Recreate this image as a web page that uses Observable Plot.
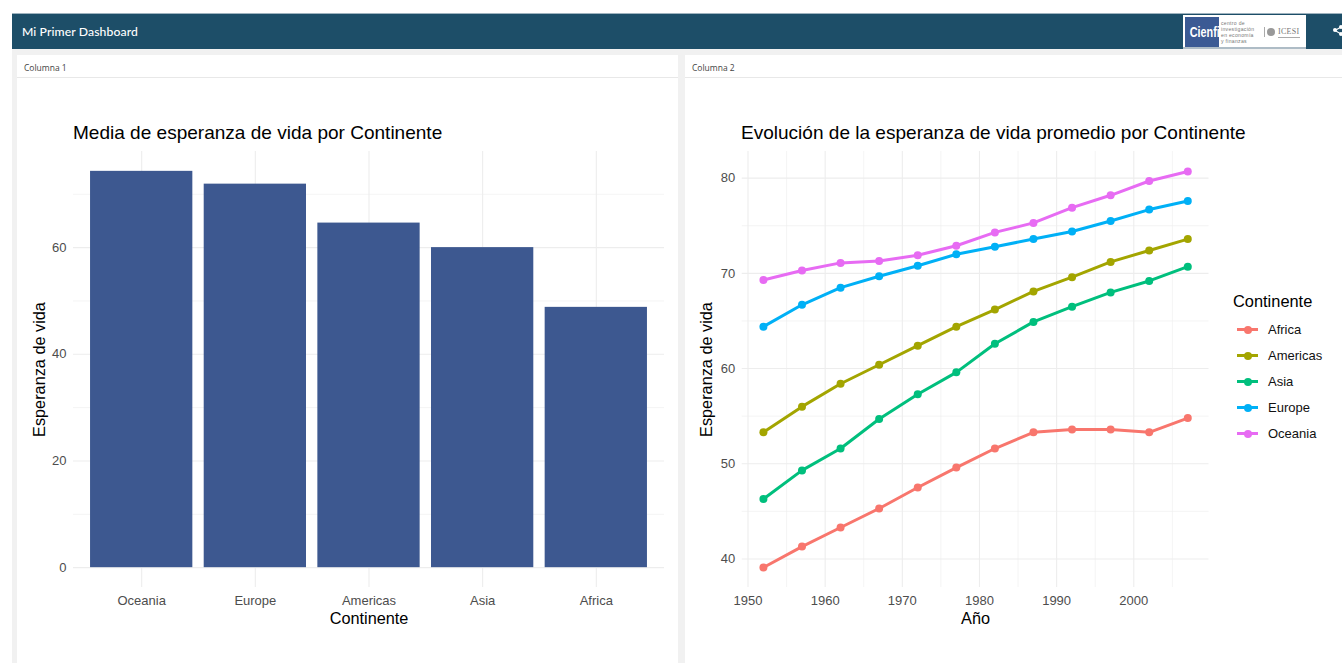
<!DOCTYPE html>
<html><head><meta charset="utf-8">
<script src="https://cdn.jsdelivr.net/npm/d3@7"></script>
<script src="https://cdn.jsdelivr.net/npm/@observablehq/plot@0.6"></script>
<style>
html,body{margin:0;padding:0;width:1342px;height:663px;overflow:hidden;background:#fff;font-family:"Liberation Sans",Arial,sans-serif}
.abs{position:absolute}
#bg{left:12px;top:49px;width:1330px;height:614px;background:#f1f1f1}
#nav{left:12px;top:13px;width:1330px;height:36px;background:#1d4e68;border-top:1px solid #9fb3bf;box-sizing:border-box}
#brand{left:22px;top:24px;color:#fff;font:500 12.2px/15px Lato,sans-serif;letter-spacing:.1px}
.card{background:#fff;top:55px;height:608px}
.head{top:55px;height:22px;border-bottom:1.5px solid #e8e8e8;font:8.5px/25px "Open Sans",sans-serif;color:#444;box-sizing:content-box}
.title{font-size:19.05px;line-height:22px;color:#000;white-space:nowrap}
#logo{left:1183px;top:15px;width:123px;height:34px;background:#fff;border-bottom:2px solid #aebcc6;box-sizing:border-box}
#cienbox{left:1185px;top:17px;width:34px;height:30px;background:#3b5a94}
#cien{left:1185px;top:17px;width:34px;color:#fff;font:bold 15px/30px "Liberation Sans",sans-serif;text-align:center;transform:scaleX(.72);white-space:nowrap}
#ctext{left:1221px;top:20px;font:5.1px/6px "Liberation Sans",sans-serif;letter-spacing:.3px;color:#777;white-space:nowrap}
#divi{left:1264px;top:27px;width:1px;height:10px;background:#aaa}
#seal{left:1267px;top:28px;width:8px;height:8px;border-radius:50%;background:#999}
#icesi{left:1278px;top:27px;font:8px/10px "Liberation Serif",serif;color:#777;letter-spacing:.3px;border-bottom:1px solid #aaa}
.dot{width:4px;height:4px;border-radius:50%;background:#fff}
.conn{width:7px;height:1px;background:#fff;transform-origin:0 50%}
#legt{left:1233px;top:291px;font-size:16.4px;line-height:20px;color:#000}
.lab{left:1268px;font-size:13px;line-height:14px;color:#111}
.sw{left:1237px;width:21px;height:3px}
.sd{left:1243.5px;width:8px;height:8px;border-radius:50%}
svg{position:absolute;overflow:visible}
</style></head>
<body>
<div class="abs" id="bg"></div>
<div class="abs" id="nav"></div>
<div class="abs" id="brand">Mi Primer Dashboard</div>
<div class="abs" id="logo"></div>
<div class="abs" id="cienbox"></div>
<div class="abs" id="cien">Cienfi</div>
<div class="abs" id="ctext">centro de<br>investigación<br>en economía<br>y finanzas</div>
<div class="abs" id="divi"></div>
<div class="abs" id="seal"></div>
<div class="abs" id="icesi">ICESI</div>
<div class="abs conn" style="left:1335px;top:30px;transform:rotate(-30deg)"></div>
<div class="abs conn" style="left:1335px;top:30px;transform:rotate(30deg)"></div>
<div class="abs dot" style="left:1339px;top:25px"></div>
<div class="abs dot" style="left:1333px;top:28px"></div>
<div class="abs dot" style="left:1339px;top:32px"></div>
<div class="abs card" style="left:17px;width:661px"></div>
<div class="abs card" style="left:685px;width:657px"></div>
<div class="abs head" style="left:17px;width:654px;padding-left:7px">Columna 1</div>
<div class="abs head" style="left:685px;width:650px;padding-left:7px">Columna 2</div>
<div id="c1"></div><div id="c2"></div>
<div class="abs title" style="left:73px;top:122px">Media de esperanza de vida por Continente</div>
<div class="abs title" style="left:741px;top:122px">Evolución de la esperanza de vida promedio por Continente</div>
<div class="abs" id="legt">Continente</div>
<div id="leg"></div>
<script>
const barContinents = ["Oceania","Europe","Americas","Asia","Africa"];
const barMeans = [74.3,71.9,64.6,60.0,48.8];
const years = [1952,1957,1962,1967,1972,1977,1982,1987,1992,1997,2002,2007];
const continents = ["Africa","Americas","Asia","Europe","Oceania"];
const colors = ["#F8766D","#A3A500","#00BF7D","#00B0F6","#E76BF3"];
const africa   = [39.1,41.3,43.3,45.3,47.5,49.6,51.6,53.3,53.6,53.6,53.3,54.8];
const americas = [53.3,56.0,58.4,60.4,62.4,64.4,66.2,68.1,69.6,71.2,72.4,73.6];
const asia     = [46.3,49.3,51.6,54.7,57.3,59.6,62.6,64.9,66.5,68.0,69.2,70.7];
const europe   = [64.4,66.7,68.5,69.7,70.8,72.0,72.8,73.6,74.4,75.5,76.7,77.6];
const oceania  = [69.3,70.3,71.1,71.3,71.9,72.9,74.3,75.3,76.9,78.2,79.7,80.7];
const seriesValues = [africa,americas,asia,europe,oceania];
const barMajor = [0,20,40,60], barMinor = [10,30,50,70];
const lineYMajor = [40,50,60,70,80], lineYMinor = [45,55,65,75];
const lineXMajor = [1950,1960,1970,1980,1990,2000], lineXMinor = [1955,1965,1975,1985,1995,2005];
const grid = "#ededed", tickCol = "#4d4d4d";
const font = {fontFamily:'"Liberation Sans",Arial,sans-serif',fontSize:"13px",background:"transparent"};

const bars = barContinents.map((c,i)=>({c,v:barMeans[i]}));
const p1 = Plot.plot({
  width:661,height:563,marginTop:51,marginBottom:76,marginLeft:56,marginRight:14,style:font,
  x:{domain:barContinents,paddingInner:0.1,paddingOuter:0.15,round:false,label:null},
  y:{domain:[-3.72,78.02],label:null},
  marks:[
    Plot.ruleY(barMinor,{stroke:grid,strokeWidth:0.6}),
    Plot.ruleY(barMajor,{stroke:grid,strokeWidth:1.1}),
    Plot.ruleX(barContinents,{x:d=>d,stroke:grid,strokeWidth:1.1}),
    Plot.barY(bars,{x:"c",y:"v",fill:"#3d5890"}),
    Plot.axisX({tickSize:0,tickPadding:8,color:tickCol,label:null}),
    Plot.axisY({ticks:barMajor,tickSize:0,tickPadding:7,color:tickCol,label:null}),
    Plot.text(["Continente"],{frameAnchor:"bottom",dy:36,fontSize:16.3,fill:"#000"}),
    Plot.text(["Esperanza de vida"],{frameAnchor:"left",textAnchor:"middle",rotate:-90,dx:-34,fontSize:16.3,fill:"#000"})
  ]
});
p1.style.left="17px";p1.style.top="100px";
document.getElementById("c1").appendChild(p1);

const rows = continents.flatMap((c,i)=>years.map((y,j)=>({c,y,v:seriesValues[i][j]})));
const p2 = Plot.plot({
  width:657,height:563,marginTop:51,marginBottom:76,marginLeft:56.7,marginRight:133.5,style:font,
  x:{domain:[1949.25,2009.75],label:null},
  y:{domain:[37.0,82.8],label:null},
  color:{domain:continents,range:colors},
  marks:[
    Plot.ruleY(lineYMinor,{stroke:grid,strokeWidth:0.6}),
    Plot.ruleY(lineYMajor,{stroke:grid,strokeWidth:1.1}),
    Plot.ruleX(lineXMinor,{stroke:grid,strokeWidth:0.6}),
    Plot.ruleX(lineXMajor,{stroke:grid,strokeWidth:1.1}),
    Plot.line(rows,{x:"y",y:"v",z:"c",stroke:"c",strokeWidth:3,curve:"linear"}),
    Plot.dot(rows,{x:"y",y:"v",fill:"c",r:4}),
    Plot.axisX({ticks:lineXMajor,tickFormat:d=>String(d),tickSize:0,tickPadding:8,color:tickCol,label:null}),
    Plot.axisY({ticks:lineYMajor,tickSize:0,tickPadding:7,color:tickCol,label:null}),
    Plot.text(["Año"],{frameAnchor:"bottom",dy:36,fontSize:16.3,fill:"#000"}),
    Plot.text(["Esperanza de vida"],{frameAnchor:"left",textAnchor:"middle",rotate:-90,dx:-35,fontSize:16.3,fill:"#000"})
  ]
});
p2.style.left="685px";p2.style.top="100px";
document.getElementById("c2").appendChild(p2);

const leg = document.getElementById("leg");
continents.forEach((c,i)=>{
  const cy = 329.5+26*i;
  leg.insertAdjacentHTML("beforeend",
   `<div class="abs sw" style="top:${cy-1.5}px;background:${colors[i]}"></div>`+
   `<div class="abs sd" style="top:${cy-4}px;background:${colors[i]}"></div>`+
   `<div class="abs lab" style="top:${cy-7}px">${c}</div>`);
});
</script>
</body></html>
